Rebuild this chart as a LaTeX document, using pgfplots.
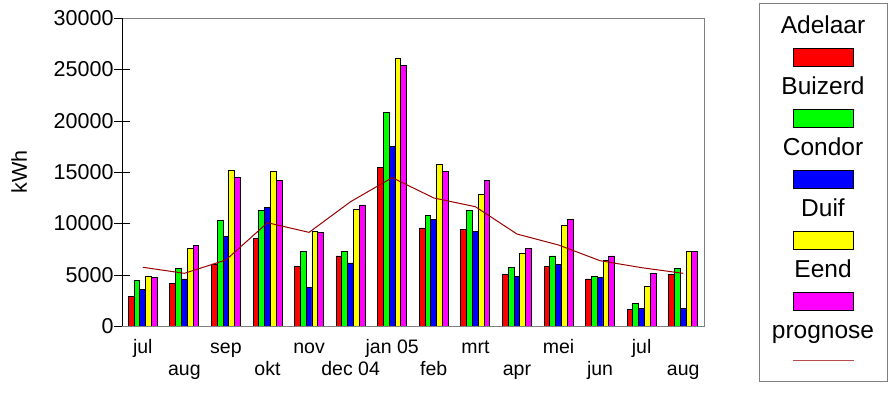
\documentclass[border=0pt]{standalone}
\usepackage{pgfplots}
\pgfplotsset{compat=1.18}
\usepackage{pgfplotstable}
\usepackage{fontspec}
\setmainfont{Liberation Sans}

\definecolor{prog}{HTML}{990000}
\definecolor{cA}{HTML}{FF0000}
\definecolor{cB}{HTML}{00FF00}
\definecolor{cC}{HTML}{0000FF}
\definecolor{cD}{HTML}{FFFF00}
\definecolor{cE}{HTML}{FF00FF}

% kWh per maand, 5 vestigingen + prognose
\pgfplotstableread{
m   a      b      c      d      e      p
0   2900   4450   3600   4870   4770   5720
1   4160   5620   4580   7570   7860   5130
2   6040   10260  8700   15160  14480  6430
3   8570   11230  11520  15030  14190  10060
4   5840   7270   3770   9250   9120   9120
5   6820   7270   6140   11360  11790  12110
6   15450  20810  17470  26070  25360  14450
7   9550   10780  10390  15750  15030  12470
8   9420   11230  9250   12790  14190  11620
9   5030   5720   4870   7110   7570   8960
10  5840   6820   6010   9810   10390  7890
11  4580   4840   4740   6400   6820   6360
12  1620   2170   1750   3860   5130   5680
13  5030   5620   1750   7270   7270   5130
}\verbruik

\newcommand{\lo}[1]{\raisebox{-22bp}{#1}}
\setlength{\fboxsep}{0pt}
\setlength{\fboxrule}{0.8bp}
\newcommand{\sw}[2]{\parbox[t]{110bp}{\centering\rule{0pt}{19bp}#2\par
  \fcolorbox{black}{#1}{\rule{0pt}{16.4bp}\rule{59.4bp}{0pt}}}}

\begin{document}
\begin{tikzpicture}
\path[use as bounding box] (0,0) rectangle (892bp,401bp);
\begin{axis}[
  at={(122bp,75bp)}, anchor=south west,
  scale only axis, width=582bp, height=308bp,
  ybar=0pt, bar width=5.8bp,
  xmin=-0.5, xmax=13.5, ymin=0, ymax=30000,
  xtick={0,...,13},
  xticklabels={jul,\lo{aug},sep,\lo{okt},nov,\lo{dec 04},jan 05,\lo{feb},mrt,\lo{apr},mei,\lo{jun},jul,\lo{aug}},
  ytick={0,5000,...,30000},
  scaled y ticks=false,
  tick pos=left,
  tick align=center, major tick length=15bp,
  xtick style={yshift=7.5bp, black},
  ytick style={black},
  axis line style={draw=gray},
  /pgf/number format/assume math mode=true,
  yticklabel style={/pgf/number format/1000 sep={}, xshift=2.5bp, font=\fontsize{21.5bp}{25bp}\selectfont},
  xticklabel style={anchor=base, yshift=-20bp, font=\fontsize{19.5bp}{23bp}\selectfont},
  ylabel={kWh},
  ylabel style={at={(axis description cs:-0.177,0.5)}, anchor=center, font=\fontsize{21.5bp}{25bp}\selectfont},
  every axis plot post/.append style={legend image code/.code={}},
  legend style={at={(1.2045,0.433)}, anchor=center, draw=gray, fill=white,
    inner xsep=9bp, inner ysep=11bp, row sep=10bp,
    font=\fontsize{24.5bp}{32bp}\selectfont,
    nodes={inner sep=0pt, text height=19bp, text depth=32bp}},
]
\addplot[fill=cA, draw=black, line width=0.9bp] table[x=m, y=a] {\verbruik};
\addlegendentry{\sw{cA}{Adelaar}}
\addplot[fill=cB, draw=black, line width=0.9bp] table[x=m, y=b] {\verbruik};
\addlegendentry{\sw{cB}{Buizerd}}
\addplot[fill=cC, draw=black, line width=0.9bp] table[x=m, y=c] {\verbruik};
\addlegendentry{\sw{cC}{Condor}}
\addplot[fill=cD, draw=black, line width=0.9bp] table[x=m, y=d] {\verbruik};
\addlegendentry{\sw{cD}{Duif}}
\addplot[fill=cE, draw=black, line width=0.9bp] table[x=m, y=e] {\verbruik};
\addlegendentry{\sw{cE}{Eend}}
\addplot[sharp plot, draw=prog, line width=1bp, mark=none] table[x=m, y=p] {\verbruik};
\addlegendentry{\parbox[t]{110bp}{\centering\rule{0pt}{19bp}prognose\par
  \textcolor{prog!70}{\rule[9.5bp]{61bp}{1.2bp}}}}
\draw[black, line width=0.8bp] (rel axis cs:0,1) -- (rel axis cs:0,0) -- (rel axis cs:1,0);
\end{axis}
\end{tikzpicture}
\end{document}
